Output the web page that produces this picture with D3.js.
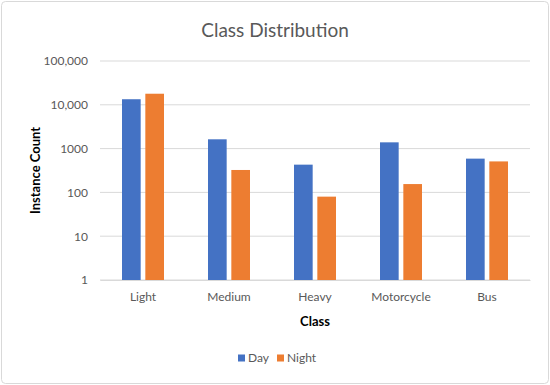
<!DOCTYPE html>
<html>
<head>
<meta charset="utf-8">
<script src="https://cdn.jsdelivr.net/npm/d3@7"></script>
<style>
  body { margin: 0; background: #fff; }
  text { font-family: Lato, "Open Sans", sans-serif; }
</style>
</head>
<body>
<div id="chart"></div>
<script>
var classes = ["Light", "Medium", "Heavy", "Motorcycle", "Bus"];
var series = ["Day", "Night"];
var dayCounts = [13400, 1630, 430, 1390, 590];
var nightCounts = [17900, 325, 80, 155, 510];
var tickValues = [1, 10, 100, 1000, 10000, 100000];
var tickLabels = ["1", "10", "100", "1000", "10,000", "100,000"];
var colors = ["#4472c4", "#ed7d31"];

var width = 550, height = 385;
var margin = {top: 61, right: 20, bottom: 105, left: 100};

var svg = d3.select("#chart")
    .append("svg")
    .attr("width", width)
    .attr("height", height);

svg.append("rect")
    .attr("x", 1.5).attr("y", 1.5)
    .attr("width", width - 3).attr("height", height - 3)
    .attr("rx", 4)
    .style("fill", "#fff")
    .style("stroke", "#d9d9d9");

var x = d3.scaleBand()
    .domain(classes)
    .range([margin.left, width - margin.right]);

var xInner = d3.scaleBand()
    .domain(series)
    .range([0, 42])
    .paddingInner(0.2);

var y = d3.scaleLog()
    .domain([1, 100000])
    .range([height - margin.bottom, margin.top]);

// gridlines
svg.append("g")
    .selectAll("line")
    .data(tickValues)
    .enter()
    .append("line")
    .attr("x1", margin.left)
    .attr("x2", width - margin.right)
    .attr("y1", function(d){ return y(d); })
    .attr("y2", function(d){ return y(d); })
    .style("stroke", "#d9d9d9")
    .style("stroke-width", 1);

var yAxis = d3.axisLeft(y)
    .tickValues(tickValues)
    .tickFormat(function(d, i){ return tickLabels[i]; })
    .tickSize(0)
    .tickPadding(12);

svg.append("g")
    .attr("transform", "translate(" + margin.left + ",0)")
    .call(yAxis)
    .call(function(g){ g.select(".domain").remove(); })
    .selectAll("text")
    .style("font-size", "12px")
    .style("fill", "#595959");

var rows = classes.map(function(c, i){
    return {cls: c, values: [dayCounts[i], nightCounts[i]]};
});

svg.append("g")
    .selectAll("g")
    .data(rows)
    .enter()
    .append("g")
    .attr("transform", function(d){
        return "translate(" + (x(d.cls) + (x.bandwidth() - 42) / 2) + ",0)";
    })
    .selectAll("rect")
    .data(function(d){
        return d.values.map(function(v, j){ return {s: series[j], v: v, j: j}; });
    })
    .enter()
    .append("rect")
    .attr("x", function(d){ return xInner(d.s); })
    .attr("width", xInner.bandwidth())
    .attr("y", function(d){ return y(d.v); })
    .attr("height", function(d){ return y(1) - y(d.v); })
    .style("fill", function(d){ return colors[d.j]; });

var xAxis = d3.axisBottom(x).tickSize(0).tickPadding(12);
svg.append("g")
    .attr("transform", "translate(0," + (height - margin.bottom) + ")")
    .call(xAxis)
    .call(function(g){ g.select(".domain").style("stroke", "#d9d9d9"); })
    .selectAll("text")
    .style("font-size", "12px")
    .style("fill", "#595959");

svg.append("text")
    .attr("x", width / 2)
    .attr("y", 37)
    .attr("text-anchor", "middle")
    .style("font-size", "19px")
    .style("fill", "#595959")
    .text("Class Distribution");

svg.append("text")
    .attr("x", (margin.left + width - margin.right) / 2)
    .attr("y", 326)
    .attr("text-anchor", "middle")
    .style("font-size", "13px")
    .style("font-weight", "bold")
    .style("fill", "#000")
    .text("Class");

svg.append("text")
    .attr("transform", "translate(40," + ((margin.top + height - margin.bottom) / 2) + ") rotate(-90)")
    .attr("text-anchor", "middle")
    .style("font-size", "13px")
    .style("font-weight", "bold")
    .style("fill", "#000")
    .text("Instance Count");

var legend = svg.append("g")
    .selectAll("g")
    .data(series)
    .enter()
    .append("g")
    .attr("transform", function(d, i){
        return "translate(" + (238 + i * 39) + ",355)";
    });

legend.append("rect")
    .attr("width", 7).attr("height", 7)
    .attr("y", -0.5)
    .style("fill", function(d, i){ return colors[i]; });

legend.append("text")
    .attr("x", 10)
    .attr("y", 7)
    .style("font-size", "12px")
    .style("fill", "#595959")
    .text(function(d){ return d; });
</script>
</body>
</html>
